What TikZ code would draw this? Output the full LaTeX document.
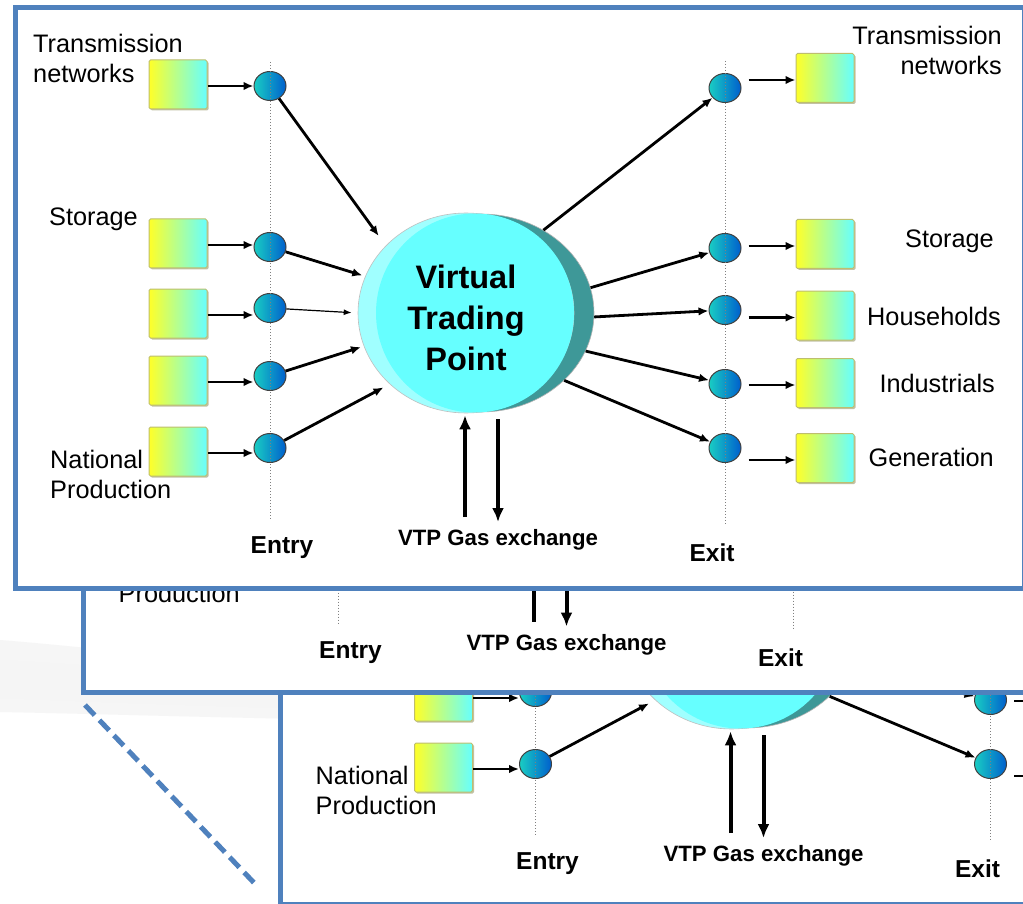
\documentclass[tikz,border=0pt]{standalone}
\usepackage{fontspec}
\setmainfont{Liberation Sans}
\usetikzlibrary{arrows.meta, shapes.geometric, positioning, shadows}

\definecolor{framecol}{RGB}{79,129,189}
\definecolor{boxyellow}{RGB}{255,255,40}
\definecolor{boxcyan}{RGB}{102,255,255}
\definecolor{boxedge}{RGB}{190,190,110}
\definecolor{hubleft}{RGB}{25,205,195}
\definecolor{hubright}{RGB}{0,95,205}
\definecolor{vtprim}{RGB}{160,255,255}
\definecolor{vtpface}{RGB}{102,255,255}
\definecolor{vtpdark}{RGB}{62,152,152}

\tikzset{
    srcbox/.style={rectangle, minimum width=58, minimum height=49, inner sep=0,
        left color=boxyellow, right color=boxcyan, draw=boxedge, line width=1,
        rounded corners=1.5,
        drop shadow={shadow xshift=1.5pt, shadow yshift=-1.5pt, fill=boxedge!70!black, opacity=.5}},
    hub/.style={ellipse, minimum width=32, minimum height=29, inner sep=0,
        left color=hubleft, right color=hubright, draw=black!75, line width=1},
    flow/.style={line width=2.8, -{Latex[length=10pt,width=8.5pt]}},
    thinflow/.style={line width=1.2, -{Latex[length=8pt,width=6pt]}},
    bigflow/.style={line width=4, -{Latex[length=14pt,width=12pt]}},
    rail/.style={gray, line width=1, dotted},
    lbl/.style={font=\fontsize{25.3}{30}\selectfont, inner sep=0},
    tag/.style={font=\bfseries\fontsize{24.5}{28}\selectfont, inner sep=0},
    frame/.style={draw=framecol, line width=5},
}

% one slide of the VTP scheme
\newcommand{\vtpslide}{%
    % trading point
    \node[ellipse, minimum width=226, minimum height=198, inner sep=0, fill=vtpdark,
        draw=gray!60, line width=.6] (vtpback) at (481,313) {};
    \node[ellipse, minimum width=216, minimum height=200, inner sep=0, fill=vtprim,
        draw=gray!50, line width=.6] (vtp) at (466,313) {};
    \fill[vtpface] (475,313) ellipse [x radius=99, y radius=99.5];
    \node[font=\bfseries\fontsize{32.5}{41}\selectfont, align=center, inner sep=0]
        (vtptext) at (466,318) {Virtual\\Trading\\Point};
    % entry side
    \foreach \y [count=\i] in {86,247,308,376,448}
        \node[hub] (en\i) at (270,\y) {};
    \foreach \y [count=\i] in {84.5,243.5,313.5,380.5,451.5}
        \node[srcbox] (ib\i) at (178,\y) {};
    \foreach \i in {1,...,5}
        \draw[flow] ([yshift=-1.5pt]ib\i.east) -- ([yshift=-1.5pt]ib\i.east -| en\i.west);
    \draw[flow, shorten >=12pt] (en1) -- (vtp.140);
    \draw[flow, shorten >=3pt] (en2) -- (vtp.160);
    \draw[thinflow, shorten >=6pt] (en3) -- (vtp.180);
    \draw[flow, shorten >=3pt] (en4) -- (vtp.198);
    \draw[flow, shorten >=7pt] (en5) -- (vtp.223);
    % exit side
    \foreach \y [count=\i] in {88,248,310,384,448}
        \node[hub] (ex\i) at (725,\y) {};
    \foreach \y [count=\i] in {78,244,315.5,383,458}
        \node[srcbox] (ob\i) at (825,\y) {};
    \foreach \i in {1,...,5}
        \draw[flow] ([shift={(-47,2)}]ob\i.west) -- ([yshift=-2pt]ob\i.west);
    \foreach \a [count=\i] in {53,13,-2,-20,-39}
        \draw[flow] (vtpback.\a) -- (ex\i);
    \draw[rail] (270,62) -- (270,519);
    \draw[rail] (725,61) -- (725,524);
    % gas exchange
    \node[tag, font=\bfseries\fontsize{22.2}{26}\selectfont] (gx) at (498,540) {VTP Gas exchange};
    \coordinate (gxup) at (465,517);
    \coordinate (gxdown) at (498,522);
    \draw[bigflow, shorten >=2pt] (gxup) -- (gxup |- vtp.south);
    \draw[bigflow] ([yshift=-6pt]gxdown |- vtp.south) -- (gxdown);
    % labels
    \node[lbl, align=left, anchor=west] (tnin) at (33,58) {Transmission\\networks};
    \node[lbl, anchor=west] (stin) at (49,219) {Storage};
    \node[lbl, align=left, anchor=west] (npin) at (50,474) {National\\Production};
    \node[lbl, align=right, anchor=east] (tnout) at (1002,50) {Transmission\\networks};
    \node[lbl, anchor=east] (stout) at (994,241) {Storage};
    \node[lbl, anchor=east] (hhout) at (1001,316) {Households};
    \node[lbl, anchor=east] (inout) at (995,383) {Industrials};
    \node[lbl, anchor=east] (geout) at (994,457) {Generation};
    \node[tag] (entry) at (282,548) {Entry};
    \node[tag] (exit) at (712,553) {Exit};
}

\begin{document}
\begin{tikzpicture}[x=1pt, y=-1pt]
    \useasboundingbox[fill=white] (0,0) rectangle (1023,904);
    % backdrop swoosh
    \fill[gray!7] (0,640) .. controls (150,652) and (350,680) .. (580,694)
        -- (580,722) .. controls (350,722) and (150,715) .. (0,712) -- cycle;
    \fill[gray!8] (0,660) .. controls (150,668) and (350,690) .. (560,700)
        -- (560,712) .. controls (350,712) and (150,704) .. (0,698) -- cycle;

    % bottom copy
    \begin{scope}[shift={(265.5,316)}, name prefix=low-]
        \fill[white] (15,7.5) rectangle (1024.5,588);
        \begin{scope}
            \clip (15,7.5) rectangle (1024.5,588);
            \vtpslide
        \end{scope}
        \draw[frame] (15,7.5) rectangle (1024.5,588);
    \end{scope}

    % middle copy
    \begin{scope}[shift={(68.5,104.5)}, name prefix=mid-]
        \fill[white] (15,7.5) rectangle (1024.5,588);
        \begin{scope}
            \clip (15,7.5) rectangle (1024.5,588);
            \vtpslide
        \end{scope}
        \draw[frame] (15,7.5) rectangle (1024.5,588);
    \end{scope}

    % top copy
    \begin{scope}[name prefix=top-]
        \fill[white] (15,7.5) rectangle (1024.5,588);
        \begin{scope}
            \clip (15,7.5) rectangle (1024.5,588);
            \vtpslide
        \end{scope}
        \draw[frame] (15,7.5) rectangle (1024.5,588);
    \end{scope}

    % zoom marker
    \coordinate (zoomstart) at (85,705);
    \coordinate (zoomend) at (258,887);
    \draw[framecol, line width=5, dash pattern=on 14pt off 7pt] (zoomstart) -- (zoomend);
\end{tikzpicture}
\end{document}
